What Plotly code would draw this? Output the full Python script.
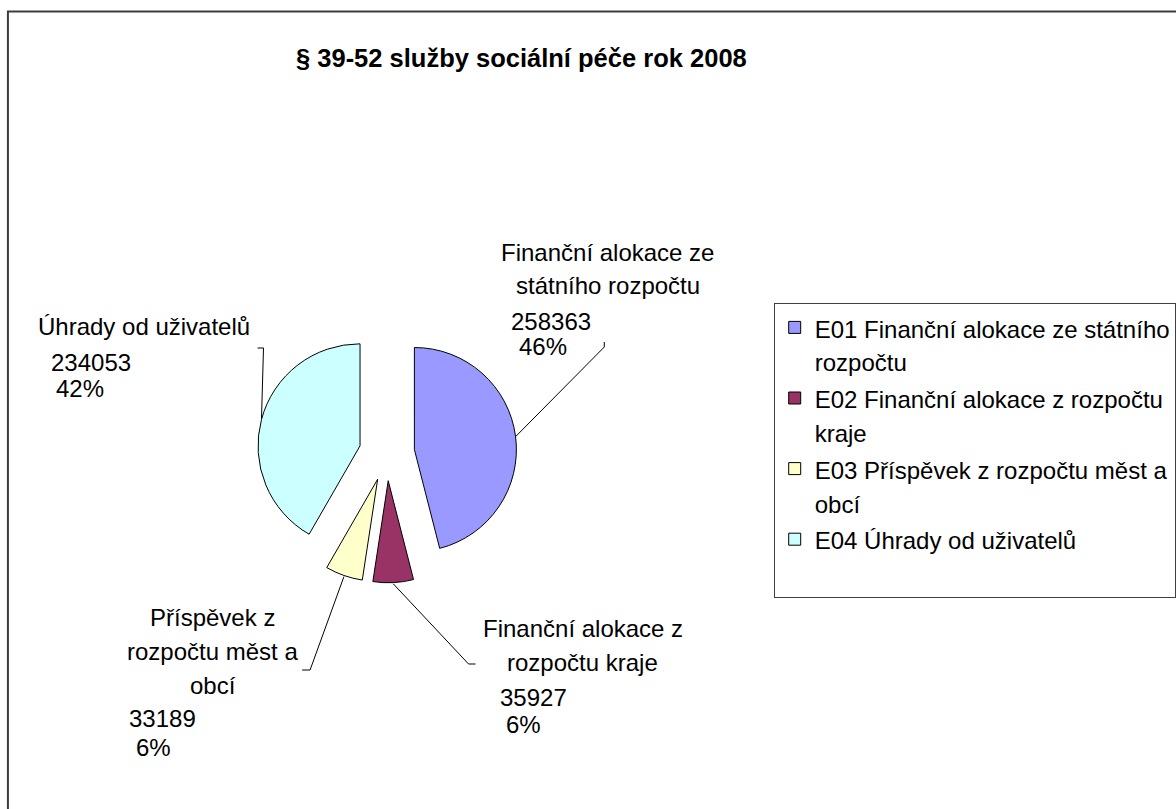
import math
import plotly.graph_objects as go

# ---- data ----
title_text = "§ 39-52 služby sociální péče rok 2008"
legend_labels = [
    "E01 Finanční alokace ze státního<br>rozpočtu",
    "E02 Finanční alokace z rozpočtu<br>kraje",
    "E03 Příspěvek z rozpočtu měst a<br>obcí",
    "E04 Úhrady od uživatelů",
]
label_lines = [
    ["Finanční alokace ze", "státního rozpočtu"],
    ["Finanční alokace z", "rozpočtu kraje"],
    ["Příspěvek z", "rozpočtu měst a", "obcí"],
    ["Úhrady od uživatelů"],
]
values = [258363, 35927, 33189, 234053]
colors = ["#9999FF", "#993366", "#FFFFCC", "#CCFFFF"]

# ---- layout (pixels) ----
W, H = 1176, 809
FS = 24
FONT = "Liberation Sans, Arial, sans-serif"
CX, CY, HALF = 390.5, 453.0, 131.0
PULL = 0.272

# name block: center x, baseline y of first line, line pitch
name_pos = [(613.5, 260.7, 33), (588.5, 636.0, 34), (215.0, 625.0, 34), (145.5, 334.0, 34)]
# value block: left x of number, left x of percent, baseline of number, baseline of percent
value_pos = [(514.3, 521.7, 329.0, 354.0), (502.7, 509.0, 705.7, 732.7),
             (128.3, 135.0, 726.7, 755.0), (49.0, 55.0, 370.0, 396.7)]
# leader elbow and tick end
leader_pts = [((610, 347), (610, 342)), ((473, 664), (480, 664)),
              ((313, 670), (305, 670)), ((266, 348), (260, 348))]


def px(x):
    return x / W


def py(y):
    return 1 - y / H


legend_names = [f"<span style='font-size:{FS}px'>{t}</span>" for t in legend_labels]
# keep the last (single-line) entry as tall as the others, like the original box
legend_names[-1] = legend_names[-1] + "<br> "

fig = go.Figure(go.Pie(
    labels=legend_names,
    values=values,
    sort=False,
    direction="clockwise",
    rotation=0,
    pull=[PULL] * len(values),
    marker=dict(colors=colors, line=dict(color="#000000", width=1)),
    textinfo="none",
    hoverinfo="value+percent",
    domain=dict(x=[px(CX - HALF), px(CX + HALF)], y=[py(CY + HALF), py(CY - HALF)]),
))

total = sum(values)
annotations = []
shapes = []
cum = 0
for i, v in enumerate(values):
    mid = (cum + v / 2) / total * 2 * math.pi
    cum += v
    sx = CX + HALF * math.sin(mid)
    sy = CY - HALF * math.cos(mid)
    (ex, ey), (tx, ty) = leader_pts[i]
    shapes.append(dict(type="path", xref="paper", yref="paper",
                       path=f"M {px(sx)} {py(sy)} L {px(ex)} {py(ey)} L {px(tx)} {py(ty)}",
                       line=dict(color="#000000", width=1)))
    nx, nby, pitch = name_pos[i]
    for j, line in enumerate(label_lines[i]):
        by = nby + j * pitch
        annotations.append(dict(text=line, x=px(nx), y=py(by - 0.33 * FS), xref="paper", yref="paper",
                                xanchor="center", yanchor="middle", showarrow=False,
                                font=dict(family=FONT, size=FS, color="#000000")))
    vx, pxx, vby, pby = value_pos[i]
    pct = round(v / total * 100)
    annotations.append(dict(text=f"{v}", x=px(vx), y=py(vby - 0.33 * FS), xref="paper", yref="paper",
                            xanchor="left", yanchor="middle", showarrow=False,
                            font=dict(family=FONT, size=FS, color="#000000")))
    annotations.append(dict(text=f"{pct}%", x=px(pxx), y=py(pby - 0.33 * FS), xref="paper", yref="paper",
                            xanchor="left", yanchor="middle", showarrow=False,
                            font=dict(family=FONT, size=FS, color="#000000")))

annotations.append(dict(text=f"<b>{title_text}</b>", x=px(526), y=py(66.7 - 0.34 * 25.5),
                        xref="paper", yref="paper", xanchor="center", yanchor="middle",
                        showarrow=False, font=dict(family=FONT, size=25.5, color="#000000")))

# outer chart border
shapes.append(dict(type="rect", xref="paper", yref="paper",
                   x0=px(8), y0=-0.02, x1=1.02, y1=py(11.5),
                   line=dict(color="#3c3c3c", width=2), fillcolor="rgba(0,0,0,0)"))

fig.update_layout(
    width=W, height=H,
    margin=dict(l=0, r=0, t=0, b=0),
    paper_bgcolor="#FFFFFF",
    plot_bgcolor="#FFFFFF",
    showlegend=True,
    legend=dict(x=px(781), y=py(303), xanchor="left", yanchor="top",
                bordercolor="#404040", borderwidth=1, bgcolor="#FFFFFF",
                font=dict(family=FONT, size=26, color="#000000"), valign="top",
                traceorder="normal"),
    annotations=annotations,
    shapes=shapes,
)

fig.write_html("out.html", config={"displayModeBar": False},
               post_script="document.body.style.margin='0';")
